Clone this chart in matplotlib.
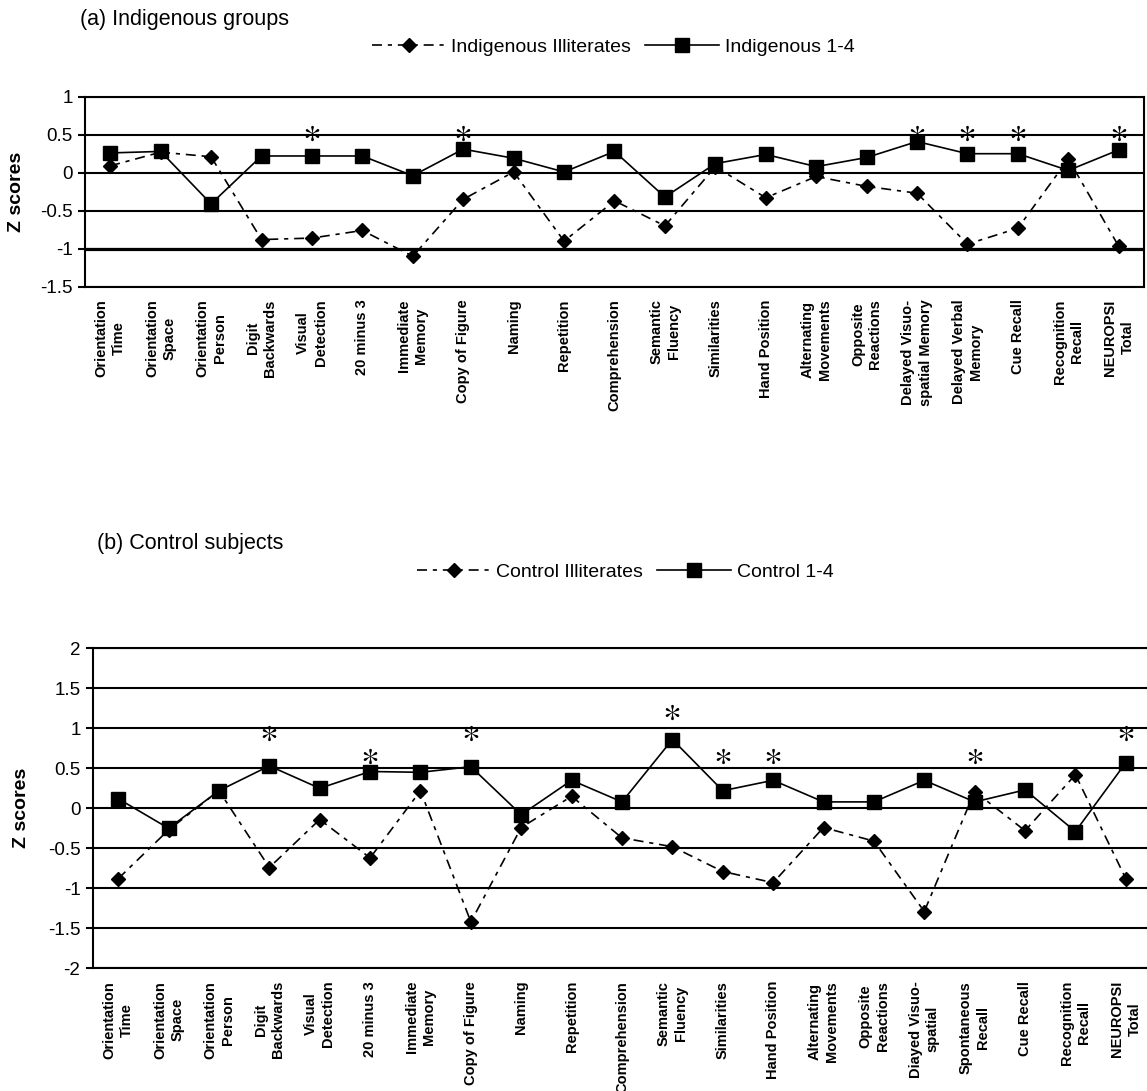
import matplotlib
matplotlib.use('Agg')
import matplotlib.pyplot as plt
from matplotlib.lines import Line2D

plt.rcParams['font.family'] = ['Liberation Sans', 'DejaVu Sans']
plt.rcParams['axes.unicode_minus'] = False
plt.rcParams['mathtext.fontset'] = 'stix'

# (a) Indigenous groups
cats_a = ['Orientation\nTime', 'Orientation\nSpace', 'Orientation\nPerson', 'Digit\nBackwards',
          'Visual\nDetection', '20 minus 3', 'Immediate\nMemory', 'Copy of Figure', 'Naming',
          'Repetition', 'Comprehension', 'Semantic\nFluency', 'Similarities', 'Hand Position',
          'Alternating\nMovements', 'Opposite\nReactions', 'Delayed Visuo-\nspatial Memory',
          'Delayed Verbal\nMemory', 'Cue Recall', 'Recognition\nRecall', 'NEUROPSI\nTotal']
indig_illit = [0.09, 0.27, 0.21, -0.88, -0.86, -0.76, -1.10, -0.35, 0.01, -0.90, -0.37,
               -0.70, 0.08, -0.33, -0.05, -0.18, -0.27, -0.94, -0.73, 0.18, -0.97]
indig_14 = [0.26, 0.28, -0.41, 0.22, 0.22, 0.22, -0.04, 0.31, 0.19, 0.01, 0.28,
            -0.32, 0.12, 0.24, 0.08, 0.20, 0.41, 0.25, 0.25, 0.03, 0.30]
stars_a = [4, 7, 16, 17, 18, 20]
star_y_a = [0.52, 0.52, 0.52, 0.52, 0.52, 0.52]
yticks_a = [-1.5, -1, -0.5, 0, 0.5, 1]
ylabels_a = ['-1.5', '-1', '-0.5', '0', '0.5', '1']

# (b) Control subjects
cats_b = ['Orientation\nTime', 'Orientation\nSpace', 'Orientation\nPerson', 'Digit\nBackwards',
          'Visual\nDetection', '20 minus 3', 'Immediate\nMemory', 'Copy of Figure', 'Naming',
          'Repetition', 'Comprehension', 'Semantic\nFluency', 'Similarities', 'Hand Position',
          'Alternating\nMovements', 'Opposite\nReactions', 'Diayed Visuo-\nspatial',
          'Spontaneous\nRecall', 'Cue Recall', 'Recognition\nRecall', 'NEUROPSI\nTotal']
ctrl_illit = [-0.88, -0.27, 0.22, -0.74, -0.14, -0.62, 0.22, -1.42, -0.24, 0.15, -0.37,
              -0.48, -0.79, -0.93, -0.24, -0.41, -1.29, 0.21, -0.28, 0.42, -0.88]
ctrl_14 = [0.12, -0.25, 0.22, 0.53, 0.25, 0.46, 0.45, 0.52, -0.08, 0.35, 0.08,
           0.86, 0.22, 0.35, 0.08, 0.08, 0.35, 0.08, 0.23, -0.29, 0.57]
stars_b = [3, 5, 7, 11, 12, 13, 17, 20]
star_y_b = [0.94, 0.65, 0.94, 1.21, 0.65, 0.65, 0.65, 0.94]
yticks_b = [-2, -1.5, -1, -0.5, 0, 0.5, 1, 1.5, 2]
ylabels_b = ['-2', '-1.5', '-1', '-0.5', '0', '0.5', '1', '1.5', '2']

DASH = (6, 3.5, 2.5, 3.5)

fig = plt.figure(figsize=(11.47, 10.91), dpi=100)
ax_a = fig.add_axes([85 / 1147, 1 - 286.7 / 1091, 1059 / 1147, 190 / 1091])
ax_b = fig.add_axes([93 / 1147, 1 - 968.3 / 1091, 1058 / 1147, 320 / 1091])


def draw_panel(ax, cats, illit, lit, stars, star_y, yticks, ylabels, lbl_x):
    x = list(range(len(cats)))
    for yv in yticks:
        ax.axhline(yv, color='black', lw=1.5, zorder=1)
    ax.plot(x, illit, color='black', lw=1.2, dashes=DASH, marker='D', ms=7.5,
            mfc='black', mec='black', zorder=3)
    ax.plot(x, lit, color='black', lw=1.2, marker='s', ms=10,
            mfc='black', mec='black', zorder=4)
    ax.plot(stars, star_y, ls='none', marker='$*$', ms=11, color='black',
            markeredgewidth=0, zorder=5)
    ax.set_xlim(-0.5, len(cats) - 0.5)
    ax.set_ylim(yticks[0], yticks[-1])
    ax.set_yticks(yticks)
    ax.set_yticklabels(ylabels, fontsize=13.5)
    ax.set_xticks(x)
    ax.set_xticklabels(cats, rotation=90, fontsize=10.5, fontweight='bold',
                       ha='center', va='top', multialignment='center', linespacing=1.3)
    ax.tick_params(axis='y', direction='out', length=5, width=1.5, pad=4)
    ax.tick_params(axis='x', length=0, pad=9)
    for s in ax.spines.values():
        s.set_linewidth(1.5)
    ax.set_ylabel('Z scores', fontsize=14, fontweight='bold')
    ax.yaxis.set_label_coords(lbl_x, 0.5)


draw_panel(ax_a, cats_a, indig_illit, indig_14, stars_a, star_y_a, yticks_a, ylabels_a, -0.057)
draw_panel(ax_b, cats_b, ctrl_illit, ctrl_14, stars_b, star_y_b, yticks_b, ylabels_b, -0.060)
ax_a.axhline(-1, color='black', lw=2.3, zorder=1)

fig.text(80 / 1147, 1 - 19 / 1091, '(a) Indigenous groups', fontsize=15.5, va='center', ha='left')
fig.text(97 / 1147, 1 - 543 / 1091, '(b) Control subjects', fontsize=15.5, va='center', ha='left')


def legend(labels, cx, cy):
    h1 = Line2D([], [], color='black', lw=1.2, dashes=DASH, marker='D', ms=7.5)
    h2 = Line2D([], [], color='black', lw=1.2, marker='s', ms=10)
    fig.legend([h1, h2], labels, ncol=2, frameon=False, loc='center',
               bbox_to_anchor=(cx / 1147, 1 - cy / 1091), fontsize=14,
               handlelength=3.8, handletextpad=0.3, columnspacing=0.7)


legend(['Indigenous Illiterates', 'Indigenous 1-4'], 613, 47)
legend(['Control Illiterates', 'Control 1-4'], 625, 572)

fig.savefig('out.png', dpi=100)
